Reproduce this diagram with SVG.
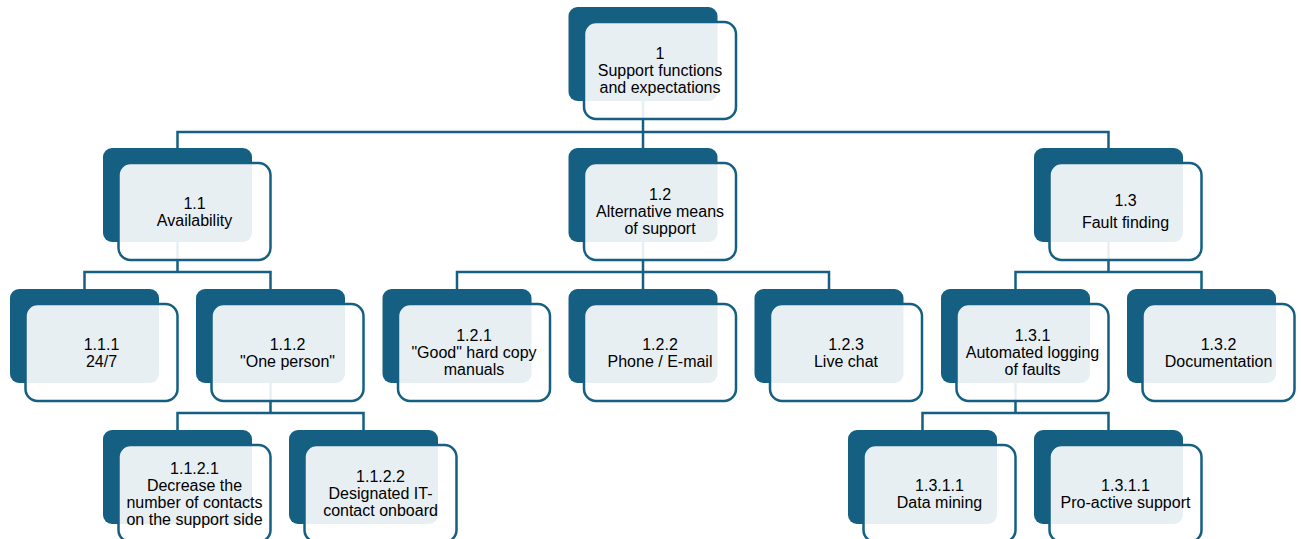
<svg xmlns="http://www.w3.org/2000/svg" width="1301" height="539" viewBox="0 0 1301 539">
<defs>
<style>
.bk{fill:#156082;}
.fr{fill:#ffffff;fill-opacity:0.9;stroke:#156082;stroke-width:2.5;}
.c{fill:none;stroke:#156082;stroke-width:2.5;}
text{font-family:"Liberation Sans",Arial,sans-serif;font-size:16px;fill:#000;text-anchor:middle;}
</style>
</defs>
<rect width="1301" height="539" fill="#ffffff"/>
<g id="connectors">
<path class="c" d="M643,101V132M177.5,148V132H1108.5V148M643,132V148"/>
<path class="c" d="M177.5,242V272M84.5,289V272H270.5V289"/>
<path class="c" d="M643,242V272M457,289V272H829V289M643,272V289"/>
<path class="c" d="M1108.5,242V272M1015.5,289V272H1201.5V289"/>
<path class="c" d="M270.5,383V413M177.5,430V413H363.5V430"/>
<path class="c" d="M1015.5,383V413M922.5,430V413H1108.5V430"/>
</g>
<g id="n1">
<rect class="bk" x="568.5" y="7" width="149" height="94" rx="9"/>
<rect class="fr" x="584" y="22" width="152" height="97" rx="12"/>
<text x="660" y="59">1</text><text x="660" y="76">Support functions</text><text x="660" y="93">and expectations</text>
</g>
<g id="n1_1">
<rect class="bk" x="103" y="148" width="149" height="94" rx="9"/>
<rect class="fr" x="118.5" y="163" width="152" height="97" rx="12"/>
<text x="194.5" y="209">1.1</text><text x="194.5" y="226">Availability</text>
</g>
<g id="n1_2">
<rect class="bk" x="568.5" y="148" width="149" height="94" rx="9"/>
<rect class="fr" x="584" y="163" width="152" height="97" rx="12"/>
<text x="660" y="200">1.2</text><text x="660" y="217">Alternative means</text><text x="660" y="234">of support</text>
</g>
<g id="n1_3">
<rect class="bk" x="1034" y="148" width="149" height="94" rx="9"/>
<rect class="fr" x="1049.5" y="163" width="152" height="97" rx="12"/>
<text x="1125.5" y="205.5">1.3</text><text x="1125.5" y="227.5">Fault finding</text>
</g>
<g id="n1_1_1">
<rect class="bk" x="10" y="289" width="149" height="94" rx="9"/>
<rect class="fr" x="25.5" y="304" width="152" height="97" rx="12"/>
<text x="101.5" y="350">1.1.1</text><text x="101.5" y="367">24/7</text>
</g>
<g id="n1_1_2">
<rect class="bk" x="196" y="289" width="149" height="94" rx="9"/>
<rect class="fr" x="211.5" y="304" width="152" height="97" rx="12"/>
<text x="287.5" y="350">1.1.2</text><text x="287.5" y="367">"One person"</text>
</g>
<g id="n1_2_1">
<rect class="bk" x="382.5" y="289" width="149" height="94" rx="9"/>
<rect class="fr" x="398" y="304" width="152" height="97" rx="12"/>
<text x="474" y="341">1.2.1</text><text x="474" y="358">"Good" hard copy</text><text x="474" y="375">manuals</text>
</g>
<g id="n1_2_2">
<rect class="bk" x="568.5" y="289" width="149" height="94" rx="9"/>
<rect class="fr" x="584" y="304" width="152" height="97" rx="12"/>
<text x="660" y="350">1.2.2</text><text x="660" y="367">Phone / E-mail</text>
</g>
<g id="n1_2_3">
<rect class="bk" x="754.5" y="289" width="149" height="94" rx="9"/>
<rect class="fr" x="770" y="304" width="152" height="97" rx="12"/>
<text x="846" y="350">1.2.3</text><text x="846" y="367">Live chat</text>
</g>
<g id="n1_3_1">
<rect class="bk" x="941" y="289" width="149" height="94" rx="9"/>
<rect class="fr" x="956.5" y="304" width="152" height="97" rx="12"/>
<text x="1032.5" y="341">1.3.1</text><text x="1032.5" y="358">Automated logging</text><text x="1032.5" y="375">of faults</text>
</g>
<g id="n1_3_2">
<rect class="bk" x="1127" y="289" width="149" height="94" rx="9"/>
<rect class="fr" x="1142.5" y="304" width="152" height="97" rx="12"/>
<text x="1218.5" y="350">1.3.2</text><text x="1218.5" y="367">Documentation</text>
</g>
<g id="n1_1_2_1">
<rect class="bk" x="103" y="430" width="149" height="94" rx="9"/>
<rect class="fr" x="118.5" y="445" width="152" height="97" rx="12"/>
<text x="194.5" y="473.5">1.1.2.1</text><text x="194.5" y="490.5">Decrease the</text><text x="194.5" y="507.5">number of contacts</text><text x="194.5" y="524.5">on the support side</text>
</g>
<g id="n1_1_2_2">
<rect class="bk" x="289" y="430" width="149" height="94" rx="9"/>
<rect class="fr" x="304.5" y="445" width="152" height="97" rx="12"/>
<text x="380.5" y="482">1.1.2.2</text><text x="380.5" y="499">Designated IT-</text><text x="380.5" y="516">contact onboard</text>
</g>
<g id="n1_3_1_1a">
<rect class="bk" x="848" y="430" width="149" height="94" rx="9"/>
<rect class="fr" x="863.5" y="445" width="152" height="97" rx="12"/>
<text x="939.5" y="491">1.3.1.1</text><text x="939.5" y="508">Data mining</text>
</g>
<g id="n1_3_1_1b">
<rect class="bk" x="1034" y="430" width="149" height="94" rx="9"/>
<rect class="fr" x="1049.5" y="445" width="152" height="97" rx="12"/>
<text x="1125.5" y="491">1.3.1.1</text><text x="1125.5" y="508">Pro-active support</text>
</g>
</svg>
